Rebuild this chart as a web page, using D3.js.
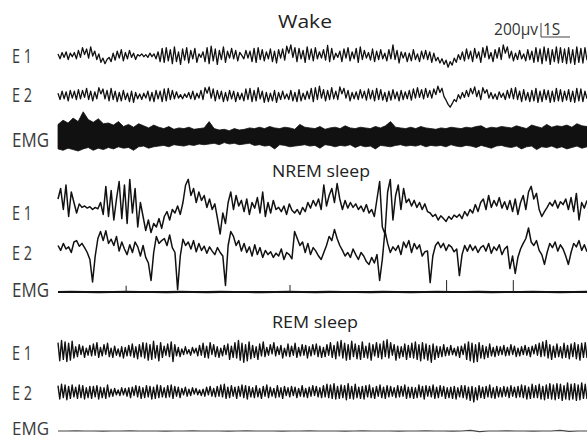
<!DOCTYPE html>
<html>
<head>
<meta charset="utf-8">
<script src="https://cdn.jsdelivr.net/npm/d3@7.9.0/dist/d3.min.js"></script>
<style>
  html, body { margin: 0; padding: 0; background: #fff; }
  svg { display: block; }
  .trace { fill: none; stroke: #111; stroke-linejoin: round; }
  .lbl { font-family: "Open Sans", sans-serif; fill: #3a3a3a; }
</style>
</head>
<body>
<div id="chart"></div>
<script>
// all amplitudes in units of 10 µV, samples evenly spread over the sweep
const wakeE1 = [
  3,-4,5,-2,6,-5,4,-1,5,-4, 8,-2,12,2,10,-3,13,0,7,-5, 3,-9,-3,-11,-5,-2,-8,4,-6,7,
  -3,9,-7,5,-4,8,-2,4,-5,2, 0,3,-1,2,-2,4,-1,3,-4,6, -8,11,-9,12,-7,9,-11,13,-8,6,
  -12,10,-6,12,-10,8,-4,11,-9,3, -2,6,-8,12,-11,14,-7,10,-12,8, -5,13,-9,7,-3,11,-4,8,-7,5,
  1,-4,8,-3,7,-8,11,-9,12,-5, 9,-7,6,-4,10,-8,7,-10,9,-3, 10,-6,14,4,16,-2,12,-8,11,-4,
  8,-9,13,-5,10,-7,12,-4,6,-3, 9,-6,15,-8,11,-5,4,-2,7,-8, 10,-3,12,-7,6,-4,11,-9,13,-5,
  8,-3,5,-6,10,-8,7,-5,9,-4, 4,-7,9,-4,16,-5,8,-10,6,-3, 5,-8,4,-7,9,-5,3,-8,7,-4,
  8,-5,6,-9,4,-7,-2,-10,-4,-12, -6,-16,-8,-13,-3,-9,2,-5,6,-7, 10,-4,7,-8,11,-3,6,-9,12,-2,
  14,-4,5,-8,9,-3,12,-5,16,4, 13,-3,7,-7,4,-5,8,-4,3,-7, 9,-5,7,-9,12,-8,10,-11,13,-7,
  11,-12,9,-8,13,-10,12,-9,10,-11, 12,-10,9,-12,13,-9,11,-10,12,-6
];
const wakeE2 = [
  4,-5,7,-4,6,-7,8,-3,7,-5, 9,-4,8,-2,11,-5,7,-7,6,-4, 12,3,10,-4,8,-7,11,-5,7,-8,
  5,-7,8,-5,4,-8,7,-9,5,-4, 3,-5,4,-3,7,-7,5,-8,8,-4, 7,-8,10,-7,11,-5,8,-4,6,-3,
  2,-4,3,-2,5,-4,7,-5,4,-3, 8,-5,12,4,13,-3,10,-7,8,-4, 7,-8,5,-7,8,-4,7,-8,5,-5,
  4,-7,10,-5,11,-8,8,-7,12,-4, 7,-9,5,-8,4,-7,8,-9,5,-5, 7,-4,3,-5,8,-7,5,-8,9,-7,
  4,-5,7,-4,11,-8,12,-5,14,-3, 9,-7,8,-5,12,-4,7,-5,13,3, 11,-3,8,-7,5,-4,6,-5,9,-3,
  7,-6,10,-4,8,-7,11,-5,9,-6, 5,-8,7,-6,9,-4,6,-7,8,-5, 6,-4,8,-6,10,-3,12,-2,9,-4,
  11,-2,8,-3,10,2,14,5,11,-1, -6,-12,-16,-11,-5,-8,2,-4,5,-2, 8,-1,11,3,13,-1,8,-5,12,4,
  9,-3,5,-4,3,-5,6,-2,4,-5, 8,-3,11,-4,12,-5,7,-8,9,-6, 5,-8,8,-7,11,-9,7,-8,9,-5,
  8,-9,7,-8,11,-7,9,-8,7,-6, 9,-8,7,-9,11,-7,10,-8,7,-4
];
// wake EMG: upper / lower envelope of the dense band
const wakeEmgUp = [
  18,24,20,27,22,36,25,21,26,19, 20,17,22,15,18,14,19,16,13,17, 14,12,15,11,13,12,14,11,12,13,
  22,12,10,11,9,12,10,11,13,12, 14,12,15,13,12,14,13,11,18,14, 13,12,15,11,13,14,12,16,13,12,
  14,13,12,15,13,16,22,14,13,12, 14,12,15,13,12,11,13,12,14,13, 12,14,13,15,16,12,14,13,15,14,
  13,16,14,12,17,15,13,18,14,16, 15,17,14,19,16,15
];
const wakeEmgDown = [
  17,19,16,18,20,17,15,19,16,18, 15,17,14,16,15,19,14,13,16,14, 13,12,14,11,12,13,11,12,10,11,
  10,9,11,8,10,9,11,10,9,12, 11,13,12,17,11,12,14,13,12,11, 13,12,16,11,12,14,12,13,11,15,
  12,14,13,17,12,13,14,12,11,13, 12,13,11,14,12,13,12,14,11,13, 14,12,13,15,12,14,16,13,12,14,
  15,13,17,14,13,18,14,15,13,16, 14,17,15,13,16,14
];
const nremE1 = [
  10,25,-5,30,-15,20,5,-10,3,-2, 0,-3,-1,-5,-2,-4,5,-12,28,-15, 22,-20,10,35,-18,30,-25,38,-10,25,
  -30,5,-15,-35,-20,-38,-25,-30,-18,-32, -15,-8,-20,-5,-10,0,-12,5,30,38, 15,25,5,20,8,15,-2,10,-5,3,
  -18,-40,-10,-25,5,20,-5,15,0,8, -8,10,-12,5,-3,12,-10,20,-15,5, -10,8,-5,-2,-8,0,-12,3,-6,-10,
  -5,-12,-2,-8,5,-3,8,0,10,-5, 30,0,15,25,5,32,10,-5,8,-3, 5,-2,3,-5,0,-8,2,-10,-5,-15,
  10,35,-30,-40,20,38,-20,15,30,-5, 25,5,10,0,8,-2,5,-5,3,-8, -10,-15,-12,-20,-14,-18,-22,-15,-19,-13,
  -16,-12,-18,-8,-14,-5,-10,2,-8,5, 10,-5,15,-2,8,0,12,-3,6,-5, 8,-8,10,-12,5,15,-5,20,28,10,
  18,-5,-15,-8,-2,5,0,8,-3,6, 2,10,-5,12,-8,18,-20,5,-3,8
];
const nremE2 = [
  5,-2,8,0,3,-5,10,12,4,8, 2,-5,-15,-47,-10,15,25,12,26,8, 14,5,18,-3,10,0,-8,6,-5,10,
  3,-10,5,-12,-20,-45,-5,18,8,12, 15,5,20,2,-5,-58,-10,14,5,10, 0,12,-4,8,-2,4,-6,3,-3,-8,
  2,-5,-10,-52,5,25,18,5,12,-3, 8,-5,3,-10,6,-8,2,-12,-2,-8, -4,-12,-6,-10,0,-15,-5,-8,-14,25,
  15,5,10,-5,8,-8,2,-3,-10,-15, -5,5,18,12,28,15,5,-2,-10,-5, -12,0,-8,-15,-5,-10,-18,-22,-12,-20,
  -8,-45,-15,26,8,-5,3,-2,5,-8, 10,2,12,-5,8,0,6,-10,-4,-3, -48,-10,5,10,2,8,-2,6,3,-4,
  0,-38,-8,5,-3,6,-2,4,-5,2, 5,-3,8,-6,3,-2,6,-8,0,4, -28,-10,-35,-12,0,8,15,30,10,5,
  12,-2,-8,-22,-5,8,2,10,-3,6, 0,-10,-22,-5,8,3,12,-2,6,-4
];
const nremEmg = [
  0,0.3,0,-0.3,0,0.3,0,0,-0.3,0.3, 0,-0.3,0.3,0,0,-0.3,0,0.3,0,-0.3,
  0.3,0,0,-0.3,0.3,0,-0.3,0,0.3,0, 0,0.3,-0.3,0,0,0.3,0,-0.3,0,0.3
];
// [time s, height] of the thin upward ticks on the NREM EMG
const nremEmgSpikes = [[2.35, 9], [8.0, 10], [13.4, 17], [15.7, 17]];
const remE1 = [
  12,-14,15,-12,13,-15,11,-13,14,-10, 6,-8,9,-5,7,-9,4,-6,8,-7, 10,-6,12,-9,5,-7,9,-5,11,-8,
  4,-9,7,-6,3,-8,6,-10,5,-7, 8,-7,10,-9,6,-11,9,-8,12,-10, 11,-13,9,-12,14,-10,8,-14,12,-9,
  7,-6,10,-8,13,-15,9,-7,5,-8, 3,-5,6,-4,2,-6,5,-3,4,-7, 8,-6,11,-9,7,-10,12,-5,9,-8,
  6,-9,4,-7,8,-5,10,-12,7,-9, 12,-10,15,-13,11,-16,9,-14,13,-11, 8,-9,6,-12,10,-7,13,-8,5,-6,
  9,-4,12,-7,6,-5,8,-10,4,-7, 10,-8,7,-6,11,-9,5,-7,9,-6, 8,-10,6,-7,9,-5,10,-8,7,-9,
  5,-8,9,-6,12,-9,8,-11,13,-7, 15,-10,11,-13,9,-12,14,-8,10,-11, 8,-12,13,-9,7,-10,11,-13,9,-7,
  12,-9,10,-11,14,-8,16,-10,12,-6, 9,-13,7,-10,6,-8,10,-12,8,-9, 11,-10,13,-12,9,-14,12,-11,10,-13,
  8,-16,10,-12,7,-9,6,-8,9,-7, 5,-6,8,-5,4,-7,6,-9,7,-5, 10,-12,13,-14,11,-16,9,-15,12,-10,
  8,-11,6,-9,10,-7,5,-8,7,-6, 6,-5,8,-7,5,-6,9,-5,7,-8, 4,-7,6,-5,8,-6,5,-8,7,-4,
  9,-6,11,-8,13,-7,15,-10,9,-12, 7,-9,10,-8,6,-10,11,-9,8,-11, 10,-8,12,-11,9,-13,11,-9,12,-10
];
const remE2 = [
  9,-10,11,-8,10,-11,8,-9,10,-7, 7,-9,10,-8,9,-10,6,-8,8,-9, 8,-7,9,-10,7,-8,6,-9,10,-7,
  4,-6,5,-4,3,-5,6,-4,5,-6, 6,-8,7,-5,9,-7,8,-9,6,-8, 9,-7,8,-10,7,-9,10,-8,9,-7,
  6,-8,9,-7,10,-9,8,-6,7,-8, 5,-4,7,-6,4,-5,6,-3,5,-4, 3,-5,4,-6,7,-4,8,-6,5,-7,
  8,-6,10,-7,11,-9,7,-8,9,-6, 7,-9,8,-6,10,-8,9,-10,8,-7, 6,-8,9,-7,5,-9,8,-6,10,-8,
  7,-6,5,-8,9,-7,6,-9,8,-5, 6,-7,8,-5,7,-8,5,-6,9,-7, 5,-8,7,-6,9,-5,8,-7,6,-8,
  9,-7,11,-8,10,-9,12,-10,8,-9, 10,-8,9,-11,12,-9,8,-10,11,-8, 7,-9,8,-10,9,-7,10,-8,6,-9,
  8,-6,10,-8,7,-9,9,-7,8,-6, 6,-8,9,-7,8,-6,10,-9,7,-8, 7,-9,6,-8,10,-7,8,-10,9,-6,
  8,-7,10,-9,7,-8,9,-6,8,-9, 6,-8,7,-9,8,-10,6,-7,9,-8, 9,-10,7,-12,8,-14,6,-11,9,-8,
  7,-9,8,-7,10,-8,6,-9,8,-7, 6,-7,8,-6,7,-8,9,-6,7,-8, 8,-7,10,-8,9,-10,7,-9,11,-8,
  9,-8,11,-10,8,-11,10,-9,12,-10, 10,-11,12,-9,11,-12,9,-10,13,-11, 11,-10,12,-12,10,-11,13,-9,11,-10
];
const remEmg = [
  0,0,0.3,0,0,-0.3,0,0,0.3,0, 0,0,-0.3,0,0,0.3,0,0,0,-0.3, 0,0.3,0,0,0,-0.3,0,0,0.3,0,
  0,0,-0.3,0,0.3,0,0,0,-0.3,0, 0,0.3,0,0,-0.3,0,0.8,-0.8,0,0, 0.3,0,0,-0.3,0,0,0.8,-0.5,0,0
];

const stageTitles = ["Wake", "NREM sleep", "REM sleep"];
const channelNames = ["E 1", "E 2", "EMG"];

const W = 587, H = 441;
const X0 = 58, X1 = 587;
const SECONDS = (X1 - X0) / 29;   // 29 px per second

const svg = d3.select("#chart").append("svg")
  .attr("width", W).attr("height", H);

const x = d3.scaleLinear().domain([0, SECONDS]).range([X0, X1]);
const amp = d3.scaleLinear().domain([0, 20]).range([0, 14]); // 200 µV

const rows = [
  { ch: 0, base: 56, labelY: 63, data: wakeE1, width: 1.3 },
  { ch: 1, base: 96, labelY: 102, data: wakeE2, width: 1.3 },
  { ch: 2, base: 137, labelY: 147, emgUp: wakeEmgUp, emgDown: wakeEmgDown },
  { ch: 0, base: 206, labelY: 220, data: nremE1, width: 1.5 },
  { ch: 1, base: 249, labelY: 260, data: nremE2, width: 1.5 },
  { ch: 2, base: 292, labelY: 297, data: nremEmg, width: 2.2, spikes: nremEmgSpikes },
  { ch: 0, base: 351, labelY: 360, data: remE1, width: 1.4 },
  { ch: 1, base: 392, labelY: 400, data: remE2, width: 1.4 },
  { ch: 2, base: 431, labelY: 435, size: 19, data: remEmg, width: 1.2, color: "#444" }
];

const tAt = (arr) => (d, i) => x(i * SECONDS / (arr.length - 1));

rows.forEach(r => {
  if (r.emgUp) {
    const pairs = r.emgUp.map((u, i) => [u, r.emgDown[i]]);
    const area = d3.area()
      .x(tAt(pairs))
      .y0(d => r.base + amp(d[1]))
      .y1(d => r.base - amp(d[0]));
    svg.append("path").datum(pairs)
      .attr("d", area)
      .attr("fill", "#111")
      .attr("stroke", "#111")
      .attr("stroke-width", 0.8);
  } else {
    const line = d3.line().x(tAt(r.data)).y(d => r.base - amp(d));
    svg.append("path").datum(r.data)
      .attr("class", "trace")
      .attr("d", line)
      .style("stroke-width", r.width || 1.2)
      .style("stroke", r.color || "#111");
  }
  if (r.spikes) {
    svg.selectAll(null).data(r.spikes).join("line")
      .attr("x1", d => x(d[0])).attr("x2", d => x(d[0]))
      .attr("y1", r.base).attr("y2", d => r.base - amp(d[1]))
      .attr("stroke", "#222").attr("stroke-width", 1);
  }
  svg.append("text").attr("class", "lbl")
    .attr("x", 12).attr("y", r.labelY)
    .attr("font-size", r.size || 20)
    .attr("textLength", r.ch === 2 ? 37 : 20)
    .attr("lengthAdjust", "spacingAndGlyphs")
    .text(channelNames[r.ch]);
});

// stage titles
const titles = [
  { x: 278, y: 28, size: 19, len: 54 },
  { x: 272, y: 177, size: 17, len: 98 },
  { x: 272, y: 328, size: 17, len: 86 }
];
titles.forEach((t, i) => {
  svg.append("text").attr("class", "lbl")
    .attr("x", t.x).attr("y", t.y)
    .attr("font-size", t.size)
    .attr("textLength", t.len)
    .attr("lengthAdjust", "spacingAndGlyphs")
    .style("fill", "#222")
    .text(stageTitles[i]);
});

// scale bar: 200 µV vertical, 1 s horizontal
const sbX = 541, sbY = 37;
svg.append("path")
  .attr("d", `M${sbX},${sbY - amp(20)}V${sbY}H${sbX + x(1) - x(0)}`)
  .attr("fill", "none").attr("stroke", "#444").attr("stroke-width", 1);
svg.append("text").attr("class", "lbl")
  .attr("x", sbX - 3).attr("y", 35).attr("text-anchor", "end")
  .attr("font-size", 15.5).style("fill", "#333")
  .text("200μv");
svg.append("text").attr("class", "lbl")
  .attr("x", sbX + 2).attr("y", 35)
  .attr("font-size", 15.5).style("fill", "#333")
  .text("1S");
</script>
</body>
</html>
